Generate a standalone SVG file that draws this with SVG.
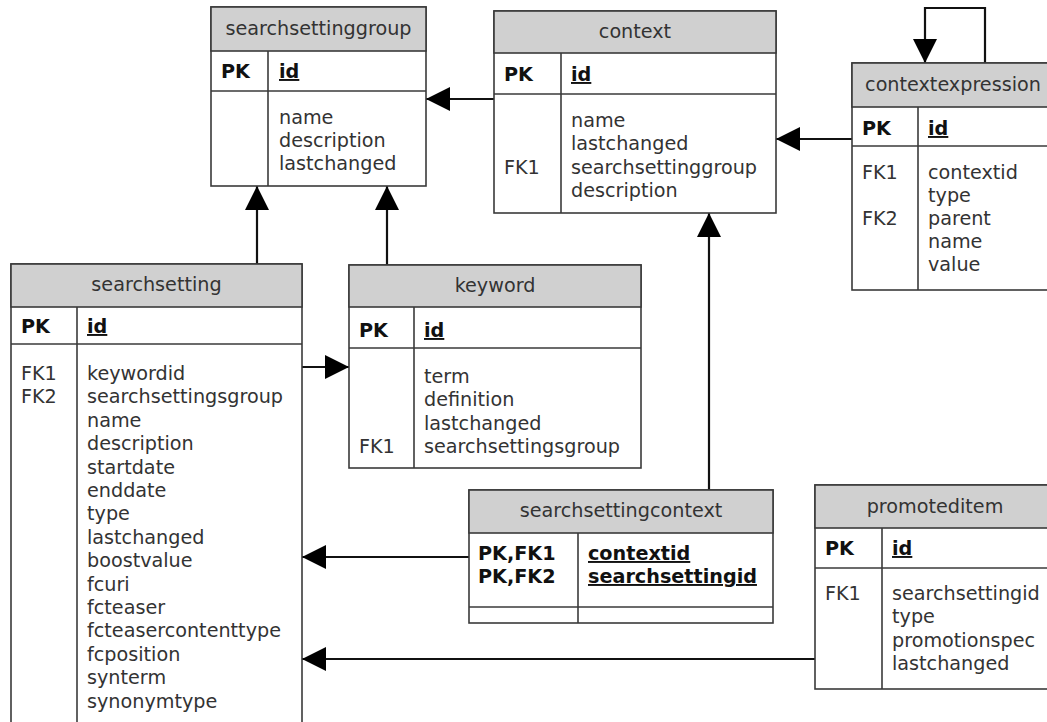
<svg xmlns="http://www.w3.org/2000/svg" width="1047" height="722" viewBox="0 0 1047 722">
<style>
.box{fill:#fff;stroke:#3a3a3a;stroke-width:1.6}
.hdr{fill:#d0d0d0;stroke:#3a3a3a;stroke-width:1.6}
.ln{stroke:#3a3a3a;stroke-width:1.6}
text{font-family:"DejaVu Sans",Verdana,sans-serif;font-size:19.2px;fill:#333}
.t{text-anchor:middle}
.b{font-weight:bold;fill:#111}
.u{text-decoration:underline}
.conn{fill:none;stroke:#111;stroke-width:2.2}
</style>
<defs>
<marker id="arr" viewBox="0 0 24 24" refX="24" refY="12" markerWidth="24" markerHeight="24" markerUnits="userSpaceOnUse" orient="auto">
<path d="M0,0 L24,12 L0,24 z" fill="#000"/>
</marker>
</defs>
<rect width="1047" height="722" fill="#fff"/>

<g id="connectors">
<path class="conn" d="M494,99 L426,99" marker-end="url(#arr)"/>
<path class="conn" d="M852,139 L776,139" marker-end="url(#arr)"/>
<path class="conn" d="M985,63 L985,8 L925,8 L925,63" marker-end="url(#arr)"/>
<path class="conn" d="M257,264 L257,186" marker-end="url(#arr)"/>
<path class="conn" d="M387,265 L387,186" marker-end="url(#arr)"/>
<path class="conn" d="M302,367 L349,367" marker-end="url(#arr)"/>
<path class="conn" d="M709,490 L709,213" marker-end="url(#arr)"/>
<path class="conn" d="M469,557 L302,557" marker-end="url(#arr)"/>
<path class="conn" d="M815,659 L302,659" marker-end="url(#arr)"/>
</g>

<g id="searchsettinggroup">
<rect class="box" x="211" y="7" width="215" height="179"/>
<rect class="hdr" x="211" y="7" width="215" height="44"/>
<line class="ln" x1="211" y1="91" x2="426" y2="91"/>
<line class="ln" x1="268" y1="51" x2="268" y2="186"/>
<text class="t" x="318.5" y="35">searchsettinggroup</text>
<text class="b" x="221" y="78">PK</text>
<text class="b u" x="279" y="78">id</text>
<text x="279" y="124">name</text>
<text x="279" y="147">description</text>
<text x="279" y="170">lastchanged</text>
</g>

<g id="context">
<rect class="box" x="494" y="11" width="282" height="202"/>
<rect class="hdr" x="494" y="11" width="282" height="42"/>
<line class="ln" x1="494" y1="94" x2="776" y2="94"/>
<line class="ln" x1="561" y1="53" x2="561" y2="213"/>
<text class="t" x="635" y="38">context</text>
<text class="b" x="504" y="81">PK</text>
<text class="b u" x="571" y="81">id</text>
<text x="571" y="127">name</text>
<text x="571" y="150">lastchanged</text>
<text x="504" y="174">FK1</text>
<text x="571" y="174">searchsettinggroup</text>
<text x="571" y="197">description</text>
</g>

<g id="contextexpression">
<rect class="box" x="852" y="63" width="202" height="227"/>
<rect class="hdr" x="852" y="63" width="202" height="44"/>
<line class="ln" x1="852" y1="146" x2="1054" y2="146"/>
<line class="ln" x1="918" y1="107" x2="918" y2="290"/>
<text class="t" x="953" y="91">contextexpression</text>
<text class="b" x="862" y="135">PK</text>
<text class="b u" x="928" y="135">id</text>
<text x="862" y="179">FK1</text>
<text x="928" y="179">contextid</text>
<text x="928" y="202">type</text>
<text x="862" y="225">FK2</text>
<text x="928" y="225">parent</text>
<text x="928" y="248">name</text>
<text x="928" y="271">value</text>
</g>

<g id="searchsetting">
<rect class="box" x="11" y="264" width="291" height="480"/>
<rect class="hdr" x="11" y="264" width="291" height="43"/>
<line class="ln" x1="11" y1="344" x2="302" y2="344"/>
<line class="ln" x1="77" y1="307" x2="77" y2="744"/>
<text class="t" x="156.5" y="291">searchsetting</text>
<text class="b" x="21" y="333">PK</text>
<text class="b u" x="87" y="333">id</text>
<text x="21" y="380">FK1</text>
<text x="21" y="403">FK2</text>
<text x="87" y="380">keywordid</text>
<text x="87" y="403.4">searchsettingsgroup</text>
<text x="87" y="426.8">name</text>
<text x="87" y="450.2">description</text>
<text x="87" y="473.6">startdate</text>
<text x="87" y="497">enddate</text>
<text x="87" y="520.4">type</text>
<text x="87" y="543.8">lastchanged</text>
<text x="87" y="567.2">boostvalue</text>
<text x="87" y="590.6">fcuri</text>
<text x="87" y="614">fcteaser</text>
<text x="87" y="637.4">fcteasercontenttype</text>
<text x="87" y="660.8">fcposition</text>
<text x="87" y="684.2">synterm</text>
<text x="87" y="707.6">synonymtype</text>
</g>

<g id="keyword">
<rect class="box" x="349" y="265" width="292" height="203"/>
<rect class="hdr" x="349" y="265" width="292" height="42"/>
<line class="ln" x1="349" y1="348" x2="641" y2="348"/>
<line class="ln" x1="414" y1="307" x2="414" y2="468"/>
<text class="t" x="495" y="292">keyword</text>
<text class="b" x="359" y="337">PK</text>
<text class="b u" x="424" y="337">id</text>
<text x="424" y="383">term</text>
<text x="424" y="406">definition</text>
<text x="424" y="430">lastchanged</text>
<text x="359" y="453">FK1</text>
<text x="424" y="453">searchsettingsgroup</text>
</g>

<g id="searchsettingcontext">
<rect class="box" x="469" y="490" width="304" height="133"/>
<rect class="hdr" x="469" y="490" width="304" height="43"/>
<line class="ln" x1="469" y1="607" x2="773" y2="607"/>
<line class="ln" x1="578" y1="533" x2="578" y2="623"/>
<text class="t" x="621" y="517">searchsettingcontext</text>
<text class="b" x="478" y="560">PK,FK1</text>
<text class="b" x="478" y="583">PK,FK2</text>
<text class="b u" x="588" y="560">contextid</text>
<text class="b u" x="588" y="583">searchsettingid</text>
</g>

<g id="promoteditem">
<rect class="box" x="815" y="485" width="240" height="204"/>
<rect class="hdr" x="815" y="485" width="240" height="43"/>
<line class="ln" x1="815" y1="568" x2="1055" y2="568"/>
<line class="ln" x1="882" y1="528" x2="882" y2="689"/>
<text class="t" x="935" y="513">promoteditem</text>
<text class="b" x="825" y="555">PK</text>
<text class="b u" x="892" y="555">id</text>
<text x="825" y="600">FK1</text>
<text x="892" y="600">searchsettingid</text>
<text x="892" y="623">type</text>
<text x="892" y="647">promotionspec</text>
<text x="892" y="670">lastchanged</text>
</g>
</svg>
